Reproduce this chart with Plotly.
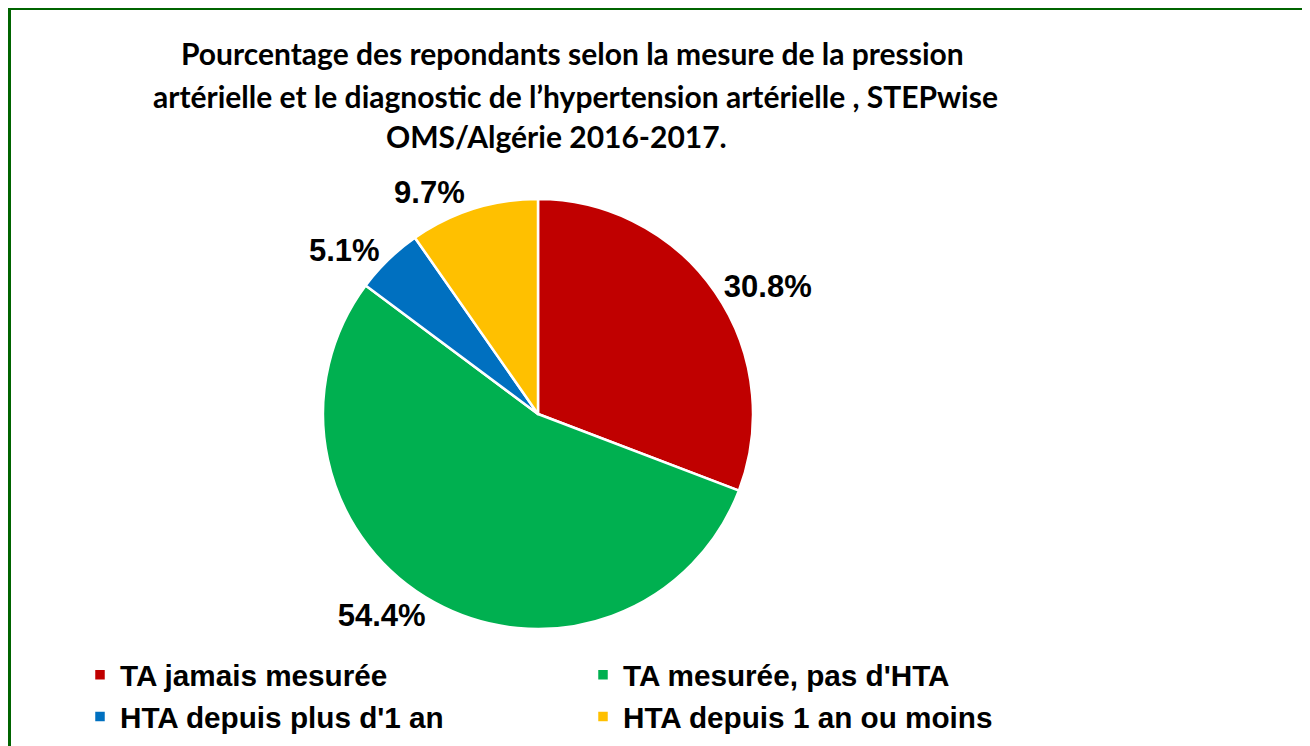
import plotly.graph_objects as go

categories = ["TA jamais mesurée", "TA mesurée, pas d'HTA", "HTA depuis plus d'1 an", "HTA depuis 1 an ou moins"]
values = [30.8, 54.4, 5.1, 9.7]
colors = ["#C00000", "#00B050", "#0070C0", "#FFC000"]
title_lines = [
    "Pourcentage des repondants selon la mesure de la pression",
    "artérielle et le diagnostic de l’hypertension artérielle , STEPwise",
    "OMS/Algérie 2016-2017.",
]

W, H = 1310, 746
OFF = 8  # page body margin offset
cx, cy, r = 538 - OFF, 414 - OFF, 215

fig = go.Figure(go.Pie(
    labels=categories,
    values=values,
    sort=False,
    direction="clockwise",
    rotation=0,
    marker=dict(colors=colors, line=dict(color="white", width=2.5)),
    texttemplate="%{value:.1f}%",
    textposition="outside",
    outsidetextfont=dict(family="Liberation Sans", size=31, color="black", weight="bold"),
    domain=dict(x=[(cx - r) / W, (cx + r) / W], y=[1 - (cy + r) / H, 1 - (cy - r) / H]),
    hoverinfo="label+percent",
))

title_x = [572 - OFF, 575 - OFF, 556 - OFF]
title_y = [53 - OFF, 96 - OFF, 136 - OFF]
annotations = [
    dict(text=t, x=xp / W, y=1 - yp / H, xref="paper", yref="paper",
         xanchor="center", yanchor="middle", showarrow=False,
         font=dict(family="Lato", size=30, color="black", weight="bold"))
    for t, xp, yp in zip(title_lines, title_x, title_y)
]

fig.update_layout(
    width=W, height=H,
    margin=dict(l=0, r=0, t=0, b=0, autoexpand=False),
    paper_bgcolor="white",
    plot_bgcolor="white",
    annotations=annotations,
    legend=dict(
        orientation="h",
        x=72 / W, xanchor="left",
        y=1 - 641 / H, yanchor="top",
        entrywidth=458, entrywidthmode="pixels",
        font=dict(family="Liberation Sans", size=29.7, color="black", weight="bold"),
        traceorder="normal",
        bgcolor="rgba(0,0,0,0)",
    ),
    shapes=[dict(
        type="rect", xref="paper", yref="paper",
        x0=1.5 / W, x1=1.02, y0=-0.02, y1=1 - 0.5 / H,
        line=dict(color="#006400", width=3), fillcolor="rgba(0,0,0,0)",
    )],
)

fig.write_html("out.html")
